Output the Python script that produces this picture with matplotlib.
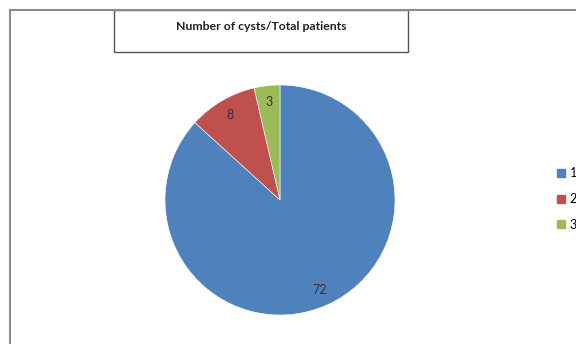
# pie chart of cyst counts per patient group

import matplotlib.pyplot as plt
from matplotlib.patches import Rectangle, Patch
from matplotlib.lines import Line2D

labels = ['1', '2', '3']
counts = [72, 8, 3]
colors = ['#4F81BD', '#C0504D', '#9BBB59']
title = 'Number of cysts/Total patients'

plt.rcParams['font.family'] = ['Lato', 'DejaVu Sans']

W, H = 576, 344
fig = plt.figure(figsize=(W / 100, H / 100), dpi=100)

# outer chart border (left and top edges only)
fig.add_artist(Line2D([10 / W, 10 / W], [0, 1 - 10 / H], color='#8c8c8c', lw=1.5,
                      transform=fig.transFigure))
fig.add_artist(Line2D([10 / W, 1], [1 - 10 / H, 1 - 10 / H], color='#8c8c8c', lw=1.5,
                      transform=fig.transFigure))

# title box
fig.add_artist(Rectangle((114 / W, 1 - 52 / H), 294 / W, 42 / H, fill=False,
                         edgecolor='#555555', lw=1.0, transform=fig.transFigure))
fig.text(261 / W, 1 - 26 / H, title, ha='center', va='center',
         fontsize=8.8, fontweight='bold', color='#222222')

# pie
ax = fig.add_axes([165 / W, 29 / H, 230 / W, 230 / H])
total = sum(counts)
wedges, texts, autotexts = ax.pie(counts, colors=colors, startangle=90, counterclock=False,
                                  autopct=lambda p: '%d' % round(p * total / 100),
                                  pctdistance=0.86,
                                  wedgeprops=dict(edgecolor='white', linewidth=0.4))
for t in autotexts:
    t.set_fontsize(9)
    t.set_color('#333333')
ax.set_xlim(-1, 1)
ax.set_ylim(-1, 1)
ax.set_aspect('equal')

# legend
handles = [Patch(facecolor=c, edgecolor=c) for c in colors]
fig.legend(handles, labels, loc='center left', bbox_to_anchor=(552 / W, 1 - 199 / H),
           frameon=False, fontsize=9, handlelength=0.6, handleheight=0.6,
           handletextpad=0.4, labelspacing=1.1, borderaxespad=0)

fig.savefig('out.png', dpi=100)
